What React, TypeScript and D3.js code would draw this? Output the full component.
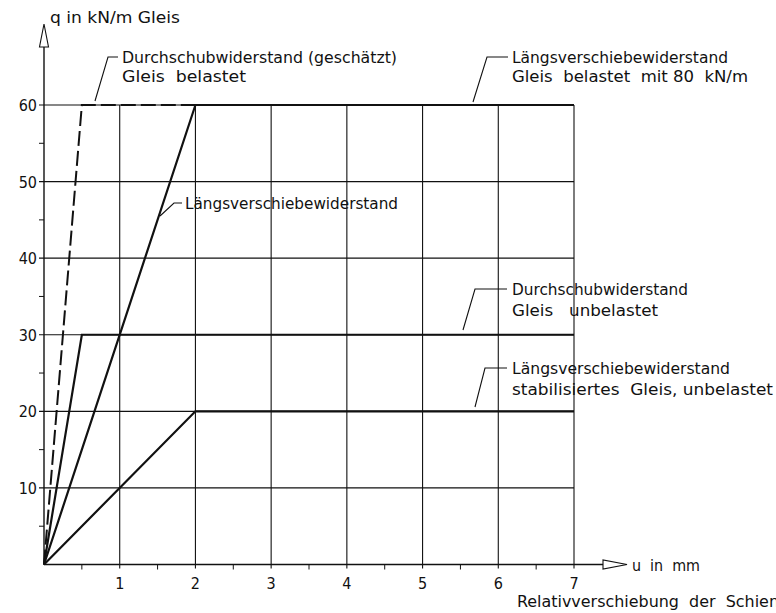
import React from "react";
import * as d3 from "d3";

const W = 776;
const H = 613;

// Data (u in mm, q in kN/m Gleis)
const xTicks = [1, 2, 3, 4, 5, 6, 7];
const yTicks = [10, 20, 30, 40, 50, 60];
const xMinor = [0.5, 1.5, 2.5, 3.5, 4.5, 5.5, 6.5];
const yMinor = [5, 15, 25, 35, 45, 55];

const durchschubBelastet: [number, number][] = [[0, 0], [0.5, 60], [2, 60]];
const laengsBelastet: [number, number][] = [[0, 0], [2, 60], [7, 60]];
const durchschubUnbelastet: [number, number][] = [[0, 0], [0.5, 30], [7, 30]];
const laengsStabilisiert: [number, number][] = [[0, 0], [2, 20], [7, 20]];

const FONT = "'DejaVu Sans Condensed', 'DejaVu Sans', sans-serif";

export default function App() {
  const x = d3.scaleLinear().domain([0, 7]).range([44, 574]);
  const y = d3.scaleLinear().domain([0, 60]).range([564.5, 105]);
  const line = d3.line<[number, number]>().x((d) => x(d[0])).y((d) => y(d[1]));
  const ink = "#111";

  const T = (props: { x: number; y: number; len: number; s: string; size?: number }) => (
    <text
      x={props.x}
      y={props.y}
      fontSize={props.size ?? 16}
      fontFamily={FONT}
      fill={ink}
      textLength={props.len}
      lengthAdjust="spacingAndGlyphs"
      style={{ whiteSpace: "pre" }}
    >
      {props.s}
    </text>
  );

  const leader = (pts: [number, number][]) => (
    <polyline points={pts.map((p) => p.join(",")).join(" ")} fill="none" stroke={ink} strokeWidth={1.1} />
  );

  return (
    <svg
      width={W}
      height={H}
      style={{ position: "absolute", left: 0, top: 0, background: "#fff" }}
    >
      <rect x={0} y={0} width={W} height={H} fill="#fff" />
      {/* grid */}
      {yTicks.map((t) => (
        <line key={"gy" + t} x1={x(0) - 5} x2={x(7)} y1={y(t)} y2={y(t)} stroke={ink} strokeWidth={1.1} />
      ))}
      {xTicks.map((t) => (
        <line key={"gx" + t} x1={x(t)} x2={x(t)} y1={y(0) + 4} y2={y(60)} stroke={ink} strokeWidth={1.1} />
      ))}
      {yMinor.map((t) => (
        <line key={"my" + t} x1={x(0) - 5} x2={x(0)} y1={y(t)} y2={y(t)} stroke={ink} strokeWidth={1} />
      ))}
      {xMinor.map((t) => (
        <line key={"mx" + t} x1={x(t)} x2={x(t)} y1={y(0)} y2={y(0) + 5} stroke={ink} strokeWidth={1} />
      ))}
      {/* axes */}
      <line x1={x(0)} x2={x(0)} y1={y(0)} y2={47} stroke={ink} strokeWidth={1.4} />
      <polygon points={`${x(0)},24 ${x(0) - 4.5},47 ${x(0) + 4.5},47`} fill="#fff" stroke={ink} strokeWidth={1.1} />
      <line x1={x(0)} x2={603} y1={y(0)} y2={y(0)} stroke={ink} strokeWidth={1.4} />
      <polygon points={`627,${y(0)} 603,${y(0) - 4.5} 603,${y(0) + 4.5}`} fill="#fff" stroke={ink} strokeWidth={1.1} />

      {/* tick labels */}
      {yTicks.map((t) => (
        <text key={"ly" + t} x={37} y={y(t) + 6} textAnchor="end" fontSize={16} fontFamily={FONT} fill={ink}>
          {t}
        </text>
      ))}
      {xTicks.map((t) => (
        <text key={"lx" + t} x={x(t)} y={589} textAnchor="middle" fontSize={16} fontFamily={FONT} fill={ink}>
          {t}
        </text>
      ))}

      {/* series */}
      <path d={line(durchschubBelastet) ?? ""} fill="none" stroke={ink} strokeWidth={2} strokeDasharray="15,5" />
      <path d={line(laengsBelastet) ?? ""} fill="none" stroke={ink} strokeWidth={2.2} />
      <path d={line(durchschubUnbelastet) ?? ""} fill="none" stroke={ink} strokeWidth={2.2} />
      <path d={line(laengsStabilisiert) ?? ""} fill="none" stroke={ink} strokeWidth={2.2} />

      {/* leaders */}
      {leader([[95, 101], [108, 57], [118, 57]])}
      {leader([[473, 102], [487, 57], [508, 57]])}
      {leader([[160, 216], [174, 203], [182, 203]])}
      {leader([[463, 330], [475, 289], [507, 289]])}
      {leader([[475, 407], [485, 368], [507, 368]])}

      {/* annotations */}
      <T x={50} y={23} len={130} s="q in kN/m Gleis" />
      <T x={122} y={63} len={275} s="Durchschubwiderstand (geschätzt)" />
      <T x={122} y={82} len={124} s="Gleis  belastet" />
      <T x={512} y={63} len={216} s="Längsverschiebewiderstand" />
      <T x={512} y={82} len={236} s="Gleis  belastet  mit 80  kN/m" />
      <T x={185} y={209} len={213} s="Längsverschiebewiderstand" />
      <T x={512} y={295} len={176} s="Durchschubwiderstand" />
      <T x={512} y={316} len={146} s="Gleis   unbelastet" />
      <T x={512} y={374} len={218} s="Längsverschiebewiderstand" />
      <T x={512} y={395} len={261} s="stabilisiertes  Gleis, unbelastet" />
      <T x={632} y={571} len={68} s="u  in  mm" />
      <T x={517} y={607} len={262} s="Relativverschiebung  der  Schien" />
    </svg>
  );
}
